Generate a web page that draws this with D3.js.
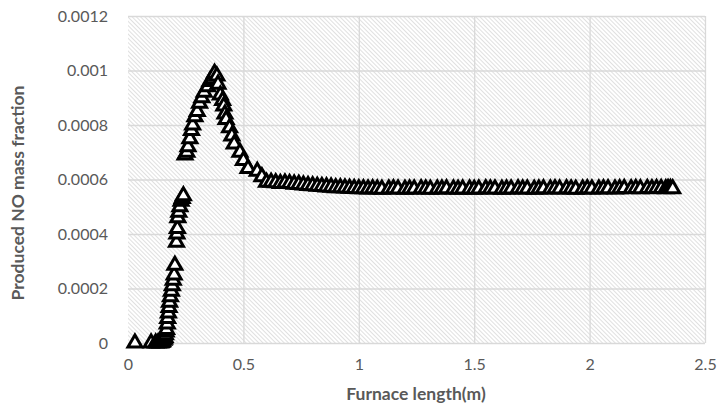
<!DOCTYPE html>
<html>
<head>
<meta charset="utf-8">
<script src="https://cdn.jsdelivr.net/npm/d3@7"></script>
<style>
  body { margin: 0; background: #fff; }
  svg { display: block; }
</style>
</head>
<body>
<div id="chart"></div>
<script>
const width = 717;
const height = 403;
const margin = { top: 16, right: 12, bottom: 60, left: 128 };

// furnace length (m)
const xValues = [
  0.03, 0.10, 0.12, 0.13, 0.14, 0.145, 0.15, 0.155, 0.158, 0.16,
  0.162, 0.165, 0.167, 0.17, 0.172, 0.175, 0.178, 0.18, 0.184, 0.188,
  0.192, 0.196, 0.20, 0.203, 0.21, 0.212, 0.214, 0.216, 0.22, 0.225,
  0.23, 0.235, 0.24, 0.247, 0.255, 0.26, 0.268, 0.275, 0.28, 0.29,
  0.30, 0.31, 0.32, 0.33, 0.345, 0.355, 0.365, 0.375, 0.385, 0.39,
  0.40, 0.41, 0.415, 0.42, 0.425, 0.44, 0.45, 0.46, 0.485, 0.50,
  0.52, 0.56, 0.58, 0.60, 0.62, 0.64, 0.66, 0.68, 0.70, 0.72,
  0.74, 0.76, 0.78, 0.80, 0.82, 0.84, 0.86, 0.88, 0.90, 0.92,
  0.94, 0.96, 0.98, 1.00, 1.02, 1.04, 1.06, 1.08, 1.10, 1.13,
  1.15, 1.17, 1.20, 1.22, 1.24, 1.27, 1.29, 1.31, 1.34, 1.36,
  1.38, 1.41, 1.43, 1.45, 1.48, 1.50, 1.52, 1.55, 1.57, 1.59,
  1.62, 1.64, 1.66, 1.69, 1.71, 1.73, 1.76, 1.78, 1.80, 1.83,
  1.85, 1.87, 1.90, 1.92, 1.94, 1.97, 1.99, 2.01, 2.04, 2.06,
  2.08, 2.11, 2.13, 2.15, 2.18, 2.20, 2.22, 2.25, 2.27, 2.29,
  2.31, 2.33, 2.34, 2.35, 2.36
];

// produced NO mass fraction
const noValues = [
  0, 0, 0, 0, 0, 0.000002, 0.000005, 0.00001, 0.000015, 0.00002,
  0.00003, 0.00004, 0.00005, 0.00007, 0.00009, 0.00011, 0.00013, 0.00015, 0.00017, 0.00019,
  0.00021, 0.00023, 0.00025, 0.000285, 0.00037, 0.0004, 0.00042, 0.00046, 0.00048, 0.0005,
  0.00052, 0.00053, 0.00054, 0.00069, 0.0007, 0.00072, 0.00075, 0.00078, 0.0008, 0.00083,
  0.00085, 0.00088, 0.0009, 0.00092, 0.00094, 0.00096, 0.00097, 0.00099, 0.00098, 0.00095,
  0.00091, 0.00089, 0.00087, 0.00084, 0.00082, 0.00079, 0.00076, 0.00073, 0.0007, 0.00067,
  0.00064, 0.00063, 0.00061, 0.00059, 0.00059, 0.000588, 0.000585, 0.000587, 0.000585, 0.000583,
  0.000582, 0.00058, 0.000578, 0.000577, 0.000575, 0.000574, 0.000573, 0.000572, 0.00057, 0.00057,
  0.000569, 0.000568, 0.000567, 0.000566, 0.000566, 0.000565, 0.000566, 0.000565, 0.000564, 0.000565,
  0.000566, 0.000565, 0.000564, 0.000565, 0.000565, 0.000566, 0.000565, 0.000564, 0.000565, 0.000565,
  0.000566, 0.000565, 0.000564, 0.000565, 0.000565, 0.000564, 0.000565, 0.000566, 0.000565, 0.000565,
  0.000564, 0.000565, 0.000565, 0.000566, 0.000565, 0.000565, 0.000564, 0.000565, 0.000566, 0.000565,
  0.000566, 0.000565, 0.000566, 0.000565, 0.000564, 0.000565, 0.000566, 0.000565, 0.000565, 0.000566,
  0.000566, 0.000565, 0.000566, 0.000567, 0.000566, 0.000567, 0.000566, 0.000567, 0.000566, 0.000567,
  0.000567, 0.000566, 0.000567, 0.000567, 0.000566
];

const xTicks = [0, 0.5, 1, 1.5, 2, 2.5];
const yTicks = [0, 0.0002, 0.0004, 0.0006, 0.0008, 0.001, 0.0012];

const points = xValues.map((x, i) => ({ x: x, y: noValues[i] }));

const svg = d3.select("#chart")
  .append("svg")
  .attr("width", width)
  .attr("height", height);

// hatch fill of the plot area
const defs = svg.append("defs");
const pattern = defs.append("pattern")
  .attr("id", "hatch")
  .attr("patternUnits", "userSpaceOnUse")
  .attr("width", 3)
  .attr("height", 3)
  .attr("patternTransform", "rotate(-45)");
pattern.append("rect")
  .attr("width", 3).attr("height", 3).attr("fill", "#fff");
pattern.append("line")
  .attr("x1", 0.5).attr("y1", 0).attr("x2", 0.5).attr("y2", 3)
  .attr("stroke", "#e0e0e0")
  .attr("stroke-width", 1);

const x = d3.scaleLinear().domain([0, 2.5]).range([margin.left, width - margin.right]);
const y = d3.scaleLinear().domain([0, 0.0012]).range([height - margin.bottom, margin.top]);

svg.append("rect")
  .attr("x", x(0))
  .attr("y", y(0.0012))
  .attr("width", x(2.5) - x(0))
  .attr("height", y(0) - y(0.0012))
  .attr("fill", "url(#hatch)");

// gridlines
svg.append("g")
  .selectAll("line.h")
  .data(yTicks)
  .enter()
  .append("line")
  .attr("x1", x(0)).attr("x2", x(2.5))
  .attr("y1", d => y(d) + 0.5).attr("y2", d => y(d) + 0.5)
  .attr("stroke", "#d9d9d9")
  .attr("stroke-width", 1.3);

svg.append("g")
  .selectAll("line.v")
  .data(xTicks.slice(1))
  .enter()
  .append("line")
  .attr("x1", d => x(d) + 0.5).attr("x2", d => x(d) + 0.5)
  .attr("y1", y(0.0012)).attr("y2", y(0))
  .attr("stroke", "#d9d9d9")
  .attr("stroke-width", 1.3);

// axes (labels only, Excel style)
const xAxis = svg.append("g")
  .attr("transform", `translate(0,${y(0)})`)
  .call(d3.axisBottom(x).tickValues(xTicks).tickSize(0).tickPadding(16).tickFormat(d3.format("")));
const yAxis = svg.append("g")
  .attr("transform", `translate(${x(0)},0)`)
  .call(d3.axisLeft(y).tickValues(yTicks).tickSize(0).tickPadding(20).tickFormat(d => d === 0 ? "0" : String(+d.toFixed(4))));

[xAxis, yAxis].forEach(g => {
  g.select(".domain").remove();
  g.selectAll("text")
    .attr("fill", "#595959")
    .style("font-family", "Lato, 'Open Sans', sans-serif")
    .style("font-size", "16px");
});

// markers
svg.append("g")
  .selectAll("path")
  .data(points)
  .enter()
  .append("path")
  .attr("d", d3.symbol().type(d3.symbolTriangle).size(84))
  .attr("transform", d => `translate(${x(d.x)},${y(d.y)})`)
  .attr("fill", "#fff")
  .attr("stroke", "#000")
  .attr("stroke-width", 3)
  .attr("stroke-linejoin", "miter");

// axis titles
svg.append("text")
  .attr("x", 416)
  .attr("y", 400)
  .attr("text-anchor", "middle")
  .attr("fill", "#595959")
  .style("font-family", "Lato, 'Open Sans', sans-serif")
  .style("font-weight", "bold")
  .style("font-size", "17.5px")
  .text("Furnace length(m)");

svg.append("text")
  .attr("transform", "translate(24,193) rotate(-90)")
  .attr("text-anchor", "middle")
  .attr("fill", "#595959")
  .style("font-family", "Lato, 'Open Sans', sans-serif")
  .style("font-weight", "bold")
  .style("font-size", "17.5px")
  .text("Produced NO mass fraction");
</script>
</body>
</html>
